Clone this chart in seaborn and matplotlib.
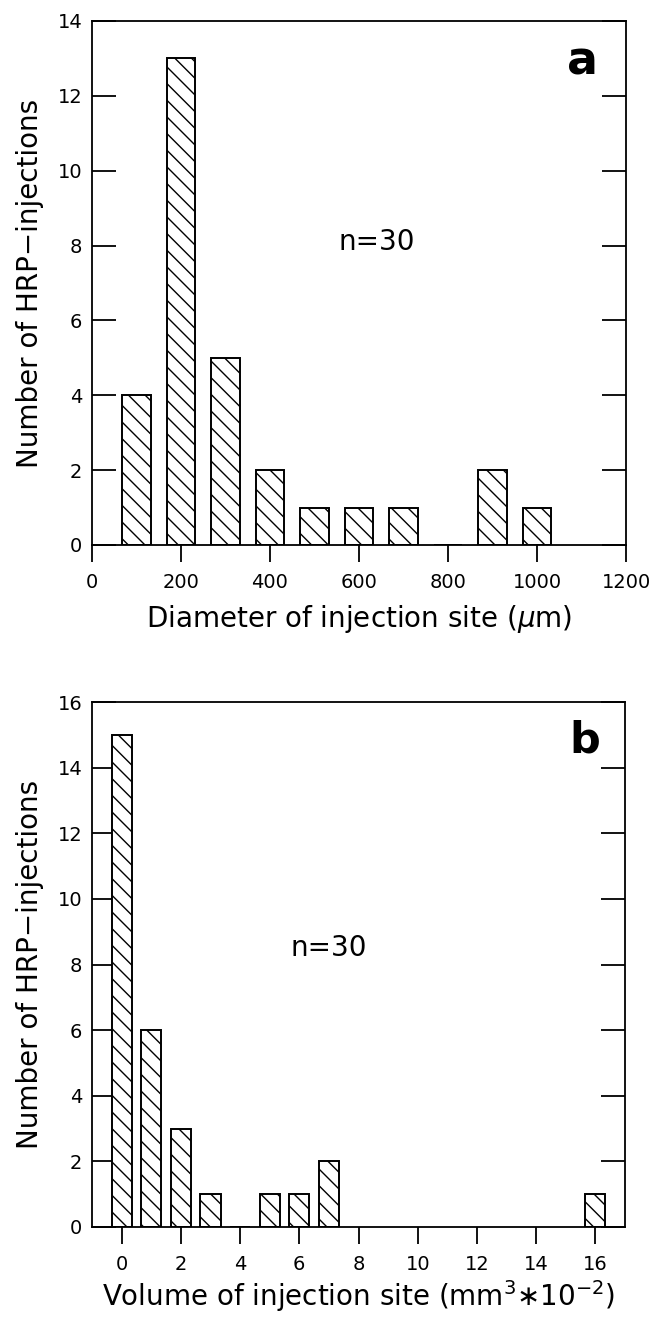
import matplotlib
matplotlib.use("Agg")
import matplotlib.pyplot as plt
import seaborn as sns

# Panel a: diameter of injection site (um) vs number of injections
diam_um = [100, 200, 300, 400, 500, 600, 700, 800, 900, 1000]
diam_counts = [4, 13, 5, 2, 1, 1, 1, 0, 2, 1]

# Panel b: volume of injection site (mm^3 * 10^-2) vs number of injections
vol_bins = [0, 1, 2, 3, 4, 5, 6, 7, 16]
vol_counts = [15, 6, 3, 1, 0, 1, 1, 2, 1]

diam_ticks = [0, 200, 400, 600, 800, 1000, 1200]
vol_ticks = [0, 2, 4, 6, 8, 10, 12, 14, 16]

sns.set_theme(style="white")
plt.rcParams['font.family'] = ['DejaVu Sans']
plt.rcParams['hatch.linewidth'] = 1.0
plt.rcParams['hatch.color'] = 'black'
plt.rcParams['text.color'] = 'black'
plt.rcParams['axes.labelcolor'] = 'black'

fig = plt.figure(figsize=(6.52, 13.22), dpi=100)
ax1 = fig.add_axes([92/652, 1-545/1322, 534/652, 524/1322])
ax2 = fig.add_axes([92/652, 1-1227/1322, 533/652, 525/1322])


def style(ax):
    for s in ax.spines.values():
        s.set_color('black')
        s.set_linewidth(1.3)
    ax.tick_params(axis='y', direction='in', length=17, width=1.3, left=True,
                   right=True, labelsize=14, pad=7, colors='black')
    ax.tick_params(axis='x', direction='out', length=12, width=1.3, bottom=True,
                   top=False, labelsize=14, pad=8, colors='black')


sns.barplot(x=diam_um, y=diam_counts, native_scale=True, width=0.65,
            color='white', edgecolor='black', linewidth=1.4, hatch='\\\\',
            saturation=1, errorbar=None, ax=ax1)
ax1.set_xlim(0, 1200)
ax1.set_ylim(0, 14)
ax1.set_xticks(diam_ticks)
ax1.set_xticklabels([str(t) for t in diam_ticks])
ax1.set_yticks(range(0, 15, 2))
style(ax1)
ax1.set_xlabel(r"Diameter of injection site ($\mu$m)", fontsize=20, labelpad=8)
ax1.set_ylabel("Number of HRP\u2212injections", fontsize=20, labelpad=10)
ax1.text(640, 8.1, "n=30", ha='center', va='center', fontsize=20)
ax1.text(0.919, 0.922, "a", transform=ax1.transAxes, ha='center', va='center',
         fontsize=33, fontweight='bold')

sns.barplot(x=vol_bins, y=vol_counts, native_scale=True, width=0.68,
            color='white', edgecolor='black', linewidth=1.4, hatch='\\\\',
            saturation=1, errorbar=None, ax=ax2)
ax2.set_xlim(-1, 17)
ax2.set_ylim(0, 16)
ax2.set_xticks(vol_ticks)
ax2.set_xticklabels([str(t) for t in vol_ticks])
ax2.set_yticks(range(0, 17, 2))
style(ax2)
ax2.set_xlabel(r"Volume of injection site (mm$^3$$\ast$10$^{-2}$)", fontsize=20, labelpad=3)
ax2.set_ylabel("Number of HRP\u2212injections", fontsize=20, labelpad=10)
ax2.text(7.0, 8.5, "n=30", ha='center', va='center', fontsize=20)
ax2.text(0.925, 0.926, "b", transform=ax2.transAxes, ha='center', va='center',
         fontsize=31, fontweight='bold')

fig.savefig("out.png", dpi=100)
